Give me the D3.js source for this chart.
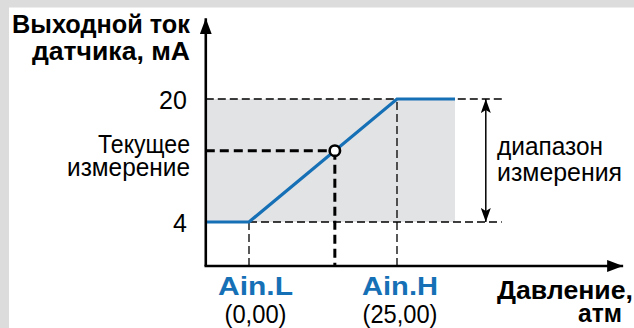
<!DOCTYPE html>
<html>
<head>
<meta charset="utf-8">
<script src="https://cdn.jsdelivr.net/npm/d3@7/dist/d3.min.js"></script>
<style>
  html, body { margin: 0; padding: 0; background: #fff; }
  svg { display: block; font-family: "Liberation Sans", Arial, sans-serif; }
</style>
</head>
<body>
<svg id="chart" width="634" height="328"></svg>
<script>
// Sensor transfer characteristic: output current vs. pressure
const currentLevels = [4, 20];                 // mA, range limits
const currentTickLabels = ["4", "20"];
const pressurePoints = [0, 25];                // atm, Ain.L / Ain.H
const pressureNames = ["Ain.L", "Ain.H"];
const pressureValueLabels = ["(0,00)", "(25,00)"];
const curvePressure = [-7.3, 0, 25, 34.8];     // atm
const curveCurrent = [4, 4, 20, 20];           // mA
const measuredPressure = [14.5];               // atm
const measuredCurrent = [13.28];               // mA
const axisPressure = [-7.3, 63.2];             // x axis extent, atm
const axisCurrent = [-1.72, 30.5];             // y axis extent, mA
const guideEndPressure = [42.7];               // dashed guides end, atm
const rangeArrowPressure = [40];               // range arrow position, atm

const BLUE = "#1670b6";
const FILL = "#e2e3e5";
const FRAME = "#dcdcdc";

const svg = d3.select("#chart");
const x = d3.scaleLinear().domain([0, 25]).range([249, 397]);
const y = d3.scaleLinear().domain([4, 20]).range([222, 99]);

// frame bands
svg.append("rect").attr("x", 0).attr("y", 0).attr("width", 634).attr("height", 7.5).attr("fill", FRAME);
svg.append("rect").attr("x", 0).attr("y", 0).attr("width", 9).attr("height", 328).attr("fill", FRAME);

const defs = svg.append("defs");
defs.append("marker").attr("id", "bigArrow").attr("viewBox", "0 0 16 12")
  .attr("refX", 16).attr("refY", 6).attr("markerWidth", 16).attr("markerHeight", 12)
  .attr("markerUnits", "userSpaceOnUse").attr("orient", "auto-start-reverse")
  .append("path").attr("d", "M0,0 L16,6 L0,12 Z").attr("fill", "#000");
defs.append("marker").attr("id", "thinArrow").attr("viewBox", "0 0 14 10")
  .attr("refX", 14).attr("refY", 5).attr("markerWidth", 14).attr("markerHeight", 10)
  .attr("markerUnits", "userSpaceOnUse").attr("orient", "auto-start-reverse")
  .append("path").attr("d", "M0,0 L14,5 L0,10 L3,5 Z").attr("fill", "#000");

// measurement range band
const xLeft = x(axisPressure[0]);
svg.append("rect")
  .attr("x", xLeft).attr("y", y(currentLevels[1]))
  .attr("width", x(curvePressure[3]) - xLeft)
  .attr("height", y(currentLevels[0]) - y(currentLevels[1]))
  .attr("fill", FILL);

// thin dashed guides
const thin = { stroke: "#000", "stroke-width": 1.3, "stroke-dasharray": "8,4" };
function line(x1, y1, x2, y2, st) {
  const l = svg.append("line").attr("x1", x1).attr("y1", y1).attr("x2", x2).attr("y2", y2);
  Object.entries(st).forEach(([k, v]) => l.attr(k, v));
  return l;
}
line(xLeft, y(20), x(guideEndPressure[0]), y(20), thin);
line(x(0), y(4), x(guideEndPressure[0]), y(4), thin);
pressurePoints.forEach(p => line(x(p), y(axisCurrent[0]), x(p), y(p === 0 ? 4 : 20), thin));

// range arrow
svg.append("line")
  .attr("x1", x(rangeArrowPressure[0])).attr("x2", x(rangeArrowPressure[0]))
  .attr("y1", y(4)).attr("y2", y(20))
  .attr("stroke", "#000").attr("stroke-width", 1.5)
  .attr("marker-start", "url(#thinArrow)").attr("marker-end", "url(#thinArrow)");

// thick dashed guides to the current measurement
const thick = { stroke: "#000", "stroke-width": 3, "stroke-dasharray": "9,5" };
line(xLeft, y(measuredCurrent[0]), x(measuredPressure[0]), y(measuredCurrent[0]), thick);
line(x(measuredPressure[0]), y(measuredCurrent[0]), x(measuredPressure[0]), y(axisCurrent[0]), thick);

// transfer characteristic
const pts = curvePressure.map((p, i) => [p, curveCurrent[i]]);
svg.append("path")
  .attr("d", d3.line().x(d => x(d[0])).y(d => y(d[1]))(pts))
  .attr("fill", "none").attr("stroke", BLUE).attr("stroke-width", 3.2)
  .attr("stroke-linejoin", "miter");

// axes
svg.append("line")
  .attr("x1", xLeft).attr("y1", y(axisCurrent[0]))
  .attr("x2", xLeft).attr("y2", y(axisCurrent[1]))
  .attr("stroke", "#000").attr("stroke-width", 2.6).attr("marker-end", "url(#bigArrow)");
svg.append("line")
  .attr("x1", xLeft - 1.3).attr("y1", y(axisCurrent[0]))
  .attr("x2", x(axisPressure[1])).attr("y2", y(axisCurrent[0]))
  .attr("stroke", "#000").attr("stroke-width", 2.6).attr("marker-end", "url(#bigArrow)");

// current measurement marker
svg.append("circle")
  .attr("cx", x(measuredPressure[0])).attr("cy", y(measuredCurrent[0])).attr("r", 5.2)
  .attr("fill", "#fff").attr("stroke", "#000").attr("stroke-width", 2.6);

// y tick labels
const yAxis = svg.append("g").attr("transform", `translate(${xLeft},0)`)
  .call(d3.axisLeft(y).tickValues(currentLevels)
    .tickFormat((d, i) => currentTickLabels[i]).tickSize(0).tickPadding(19));
yAxis.select(".domain").remove();
yAxis.selectAll("text").attr("font-size", 25).attr("fill", "#000")
  .attr("font-family", "Liberation Sans, Arial, sans-serif").attr("dy", "0.36em");

// text helper
function txt(s, px, py, o) {
  const t = svg.append("text").attr("x", px).attr("y", py).text(s)
    .attr("font-size", o.size || 25).attr("fill", o.color || "#000")
    .attr("font-weight", o.bold ? "bold" : "normal")
    .attr("text-anchor", o.anchor || "start");
  if (o.len) t.attr("textLength", o.len).attr("lengthAdjust", "spacingAndGlyphs");
  return t;
}

// axis titles
txt("Выходной ток", 190, 33, { bold: true, anchor: "end", len: 178 });
txt("датчика, мА", 190, 60, { bold: true, anchor: "end", len: 158 });
txt("Давление,", 633, 299, { bold: true, anchor: "end", len: 136 });
txt("атм", 622, 322, { bold: true, anchor: "end", len: 44 });

// annotations
txt("Текущее", 190, 153, { anchor: "end", len: 92 });
txt("измерение", 190, 176, { anchor: "end", len: 123 });
txt("диапазон", 497, 155, { len: 106 });
txt("измерения", 497, 181, { len: 125 });

// pressure point labels
const nameLen = [75, 76], valLen = [62, 75], off = [6.5, 3];
pressurePoints.forEach((p, i) => {
  txt(pressureNames[i], x(p) + off[i], 295, { bold: true, anchor: "middle", color: BLUE, len: nameLen[i] });
  txt(pressureValueLabels[i], x(p) + off[i], 323, { anchor: "middle", len: valLen[i] });
});
</script>
</body>
</html>
